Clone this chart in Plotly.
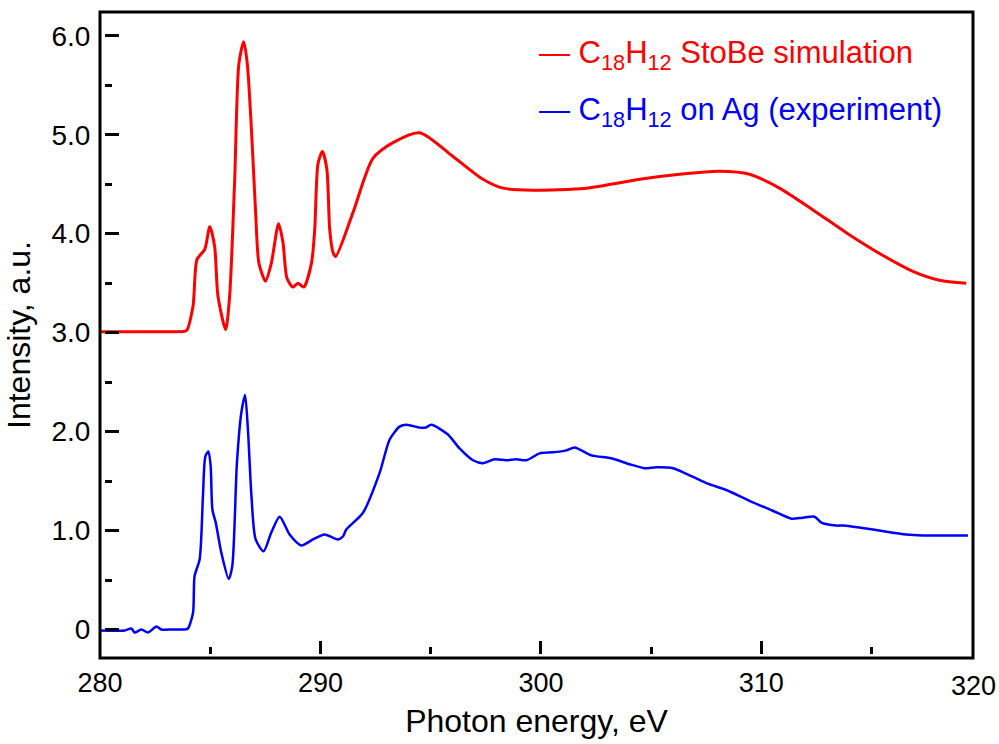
import plotly.graph_objects as go

# C18H12 StoBe simulation (offset spectrum)
energy_sim = [280.0, 282.0, 283.5, 283.92, 284.22, 284.40, 284.75, 284.98, 285.20, 285.35, 285.70, 285.88,
              286.11, 286.30, 286.52, 286.68, 286.87, 287.06, 287.21, 287.51, 287.77, 288.10,
              288.30, 288.48, 288.75, 288.98, 289.24, 289.59, 289.74, 289.89, 290.09, 290.29,
              290.42, 290.57, 290.69, 291.47, 292.38, 293.29, 294.50, 296.01, 297.37, 298.28,
              299.64, 302.06, 304.48, 306.30, 308.11, 309.46, 310.82, 312.34, 313.85, 315.36,
              316.87, 318.08, 319.29]
intensity_sim = [3.01, 3.01, 3.01, 3.02, 3.27, 3.74, 3.84, 4.07, 3.87, 3.37, 3.03, 3.37,
                 4.55, 5.72, 5.94, 5.72, 5.05, 4.21, 3.70, 3.52, 3.70, 4.10,
                 3.91, 3.55, 3.46, 3.50, 3.46, 3.70, 4.04, 4.71, 4.83, 4.65,
                 4.04, 3.81, 3.77, 4.21, 4.76, 4.92, 5.02, 4.78, 4.55, 4.46,
                 4.44, 4.46, 4.55, 4.60, 4.63, 4.60, 4.46, 4.24, 4.01, 3.80,
                 3.62, 3.53, 3.50]

# C18H12 on Ag, measured spectrum
energy_exp = [280.0, 281.12, 281.42, 281.57, 281.88, 282.18, 282.56, 282.78, 283.3, 283.84, 283.99,
              284.22, 284.29, 284.52, 284.67, 284.78, 284.92, 285.02, 285.10, 285.25, 285.51,
              285.84, 286.00, 286.21, 286.41, 286.58, 286.71, 286.87, 287.06, 287.42, 287.77,
              288.15, 288.60, 289.13, 289.66, 290.19, 290.79, 291.02, 291.17, 291.93, 292.68,
              293.14, 293.59, 293.90, 294.50, 294.77, 295.03, 295.78, 296.31, 296.92, 297.37,
              297.90, 298.43, 298.88, 299.34, 299.94, 300.54, 301.15, 301.53, 302.29, 303.19,
              304.02, 304.70, 305.23, 305.99, 307.50, 308.41, 309.46, 310.52, 311.36, 311.88,
              312.41, 312.72, 313.40, 313.70, 315.06, 316.57, 317.32, 319.37]
intensity_exp = [-0.01, -0.01, 0.01, -0.03, 0.00, -0.03, 0.03, 0.00, 0.00, 0.00, 0.01,
                 0.17, 0.54, 0.71, 1.35, 1.75, 1.80, 1.65, 1.21, 1.08, 0.77,
                 0.51, 0.64, 1.68, 2.19, 2.37, 2.02, 1.35, 0.91, 0.79, 0.98,
                 1.14, 0.96, 0.85, 0.91, 0.96, 0.91, 0.94, 1.01, 1.18, 1.58,
                 1.92, 2.05, 2.07, 2.04, 2.04, 2.07, 1.97, 1.83, 1.71, 1.68,
                 1.72, 1.71, 1.72, 1.71, 1.78, 1.79, 1.81, 1.84, 1.76, 1.73,
                 1.67, 1.63, 1.64, 1.63, 1.48, 1.41, 1.30, 1.20, 1.12, 1.13,
                 1.14, 1.08, 1.05, 1.05, 1.01, 0.96, 0.95, 0.95]

# axis ticks and labels
y_major = [0, 1, 2, 3, 4, 5, 6]
y_major_text = ["0", "1.0", "2.0", "3.0", "4.0", "5.0", "6.0"]
x_major = [280, 290, 300, 310]
x_major_text = ["280", "290", "300", "310"]
x_end_label = "320"

series_names = ["C<sub>18</sub>H<sub>12</sub> StoBe simulation",
                "C<sub>18</sub>H<sub>12</sub> on Ag (experiment)"]
series_colors = ["#ff0000", "#0000ff"]

FONT = "Liberation Sans, Arial, sans-serif"

fig = go.Figure()
fig.add_trace(go.Scatter(x=energy_sim, y=intensity_sim, mode="lines",
                         line=dict(color=series_colors[0], width=3, shape="spline", smoothing=0.7),
                         name="StoBe simulation", showlegend=False))
fig.add_trace(go.Scatter(x=energy_exp, y=intensity_exp, mode="lines",
                         line=dict(color=series_colors[1], width=2.5, shape="spline", smoothing=0.7),
                         name="on Ag (experiment)", showlegend=False))

tick_style = dict(ticks="inside", tickcolor="black", tickwidth=3, showline=False,
                  showgrid=False, zeroline=False, anchor="free")

fig.update_xaxes(range=[280, 319.6], tickvals=x_major, ticktext=x_major_text, ticklen=13,
                 minor=dict(ticks="inside", ticklen=7, tickwidth=3, tickcolor="black",
                            dtick=5, tick0=280, showgrid=False),
                 position=0.006, ticklabelstandoff=10,
                 tickfont=dict(family=FONT, size=27, color="black"),
                 title=dict(text="Photon energy, eV", font=dict(family=FONT, size=32, color="black"),
                            standoff=12),
                 **tick_style)
fig.update_yaxes(range=[-0.288, 6.24], tickvals=y_major, ticktext=y_major_text, ticklen=14,
                 minor=dict(ticks="inside", ticklen=7, tickwidth=3, tickcolor="black",
                            dtick=0.5, tick0=0, showgrid=False),
                 position=0.005, ticklabelstandoff=14,
                 tickfont=dict(family=FONT, size=28, color="black"),
                 title=dict(text="Intensity, a.u.", font=dict(family=FONT, size=32, color="black"),
                            standoff=10),
                 **tick_style)

# plot frame
fig.add_shape(type="rect", xref="paper", yref="paper", x0=0, x1=1, y0=0, y1=1,
              line=dict(color="black", width=3), fillcolor="rgba(0,0,0,0)", layer="above")

# label of the right axis edge
fig.add_annotation(x=1, y=0, xref="paper", yref="paper", text=x_end_label, showarrow=False,
                   xanchor="center", yanchor="top", yshift=-11,
                   font=dict(family=FONT, size=27, color="black"))

# legend entries
for i, (name, color) in enumerate(zip(series_names, series_colors)):
    fig.add_annotation(x=0.5, y=[0.933, 0.845][i], xref="paper", yref="paper",
                       text="— " + name, showarrow=False, xanchor="left", yanchor="middle",
                       font=dict(family=FONT, size=31, color=color))

fig.update_layout(width=999, height=744, plot_bgcolor="white", paper_bgcolor="white",
                  margin=dict(l=100, r=26, t=12, b=86))

fig.write_html("out.html")
